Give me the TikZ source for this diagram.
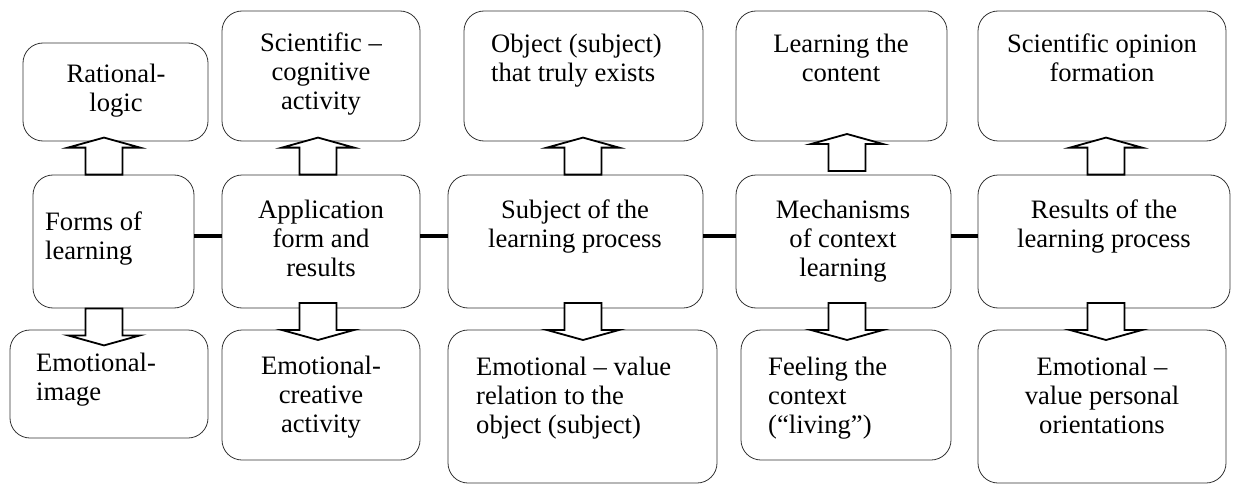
\documentclass[tikz,border=0pt]{standalone}
\usepackage{fontspec}
\setmainfont{Liberation Serif}
\tikzset{
  bx/.style={draw=black!80, line width=0.8pt, rounded corners=20pt, inner sep=0pt},
  txt/.style={inner sep=0pt, font=\fontsize{26.6}{29}\selectfont},
  blk/.style={draw, line width=1.8pt, fill=white, line join=miter},
  uparr/.pic={\draw[blk] (-18.5,0) -- (-18.5,-27) -- (-36,-27) -- (0,-37)
    -- (36,-27) -- (18.5,-27) -- (18.5,0) -- cycle;},
  dnarr/.pic={\draw[blk] (-18.5,0) -- (-18.5,27) -- (-36,27) -- (0,37)
    -- (36,27) -- (18.5,27) -- (18.5,0) -- cycle;},
  link/.style={line width=3.2pt}
}
\begin{document}
\begin{tikzpicture}[x=1pt, y=-1pt, line join=round]
\useasboundingbox (0,0) rectangle (1236,484);
% top row
\node[bx, minimum width=185pt, minimum height=98pt] (t1) at (115.5,92) {};
\node[bx, minimum width=198pt, minimum height=130pt] (t2) at (321,76) {};
\node[bx, minimum width=239pt, minimum height=130pt] (t3) at (583.5,76) {};
\node[bx, minimum width=211pt, minimum height=130pt] (t4) at (841.5,76) {};
\node[bx, minimum width=248pt, minimum height=130pt] (t5) at (1102,76) {};
% middle row
\node[bx, minimum width=161pt, minimum height=133pt] (m1) at (113.5,241.5) {};
\node[bx, minimum width=198pt, minimum height=133pt] (m2) at (321,241.5) {};
\node[bx, minimum width=255pt, minimum height=133pt] (m3) at (575.5,241.5) {};
\node[bx, minimum width=215pt, minimum height=133pt] (m4) at (843.5,241.5) {};
\node[bx, minimum width=252pt, minimum height=133pt] (m5) at (1104,241.5) {};
% bottom row
\node[bx, minimum width=198pt, minimum height=108pt] (b1) at (109,384) {};
\node[bx, minimum width=198pt, minimum height=130pt] (b2) at (321,395) {};
\node[bx, minimum width=269pt, minimum height=153pt] (b3) at (582.5,406.5) {};
\node[bx, minimum width=210pt, minimum height=130pt] (b4) at (846,395) {};
\node[bx, minimum width=248pt, minimum height=153pt] (b5) at (1102,406.5) {};
% texts (base = last line)
\node[txt, anchor=base, align=center] (lt1) at (116,112) {Rational-\\logic};
\node[txt, anchor=base, align=center] (lt2) at (321,110) {Scientific --\\cognitive\\activity};
\node[txt, anchor=base west, align=left] (lt3) at (491,82) {Object (subject)\\that truly exists};
\node[txt, anchor=base, align=center] (lt4) at (841,82) {Learning the\\content};
\node[txt, anchor=base, align=center] (lt5) at (1102,82) {Scientific opinion\\formation};
\node[txt, anchor=base west, align=left] (lm1) at (45,259) {Forms of\\learning};
\node[txt, anchor=base, align=center] (lm2) at (321,276) {Application\\form and\\results};
\node[txt, anchor=base, align=center] (lm3) at (575,247) {Subject of the\\learning process};
\node[txt, anchor=base, align=center] (lm4) at (843,276) {Mechanisms\\of context\\learning};
\node[txt, anchor=base, align=center] (lm5) at (1104,247) {Results of the\\learning process};
\node[txt, anchor=base west, align=left] (lb1) at (36,400) {Emotional-\\image};
\node[txt, anchor=base, align=center] (lb2) at (321,432) {Emotional-\\creative\\activity};
\node[txt, anchor=base west, align=left] (lb3) at (476,433) {Emotional -- value\\relation to the\\object (subject)};
\node[txt, anchor=base west, align=left] (lb4) at (768,433) {Feeling the\\context\\(``living'')};
\node[txt, anchor=base, align=center] (lb5) at (1102,433) {Emotional --\\value personal\\orientations};
% links
\foreach \a/\b in {m1/m2,m2/m3,m3/m4,m4/m5}
  \draw[link] (\a.east |- 0,236) -- (\b.west |- 0,236);
% block arrows
\pic at (104,0 |- m1.north) {uparr};
\pic at (318,0 |- m2.north) {uparr};
\pic at (583,0 |- m3.north) {uparr};
\pic at (847,171) {uparr};
\pic at (1106,0 |- m5.north) {uparr};
\pic at (104,0 |- m1.south) {dnarr};
\pic at (318,303) {dnarr};
\pic at (583,303) {dnarr};
\pic at (847,303) {dnarr};
\pic at (1106,303) {dnarr};
\end{tikzpicture}
\end{document}
